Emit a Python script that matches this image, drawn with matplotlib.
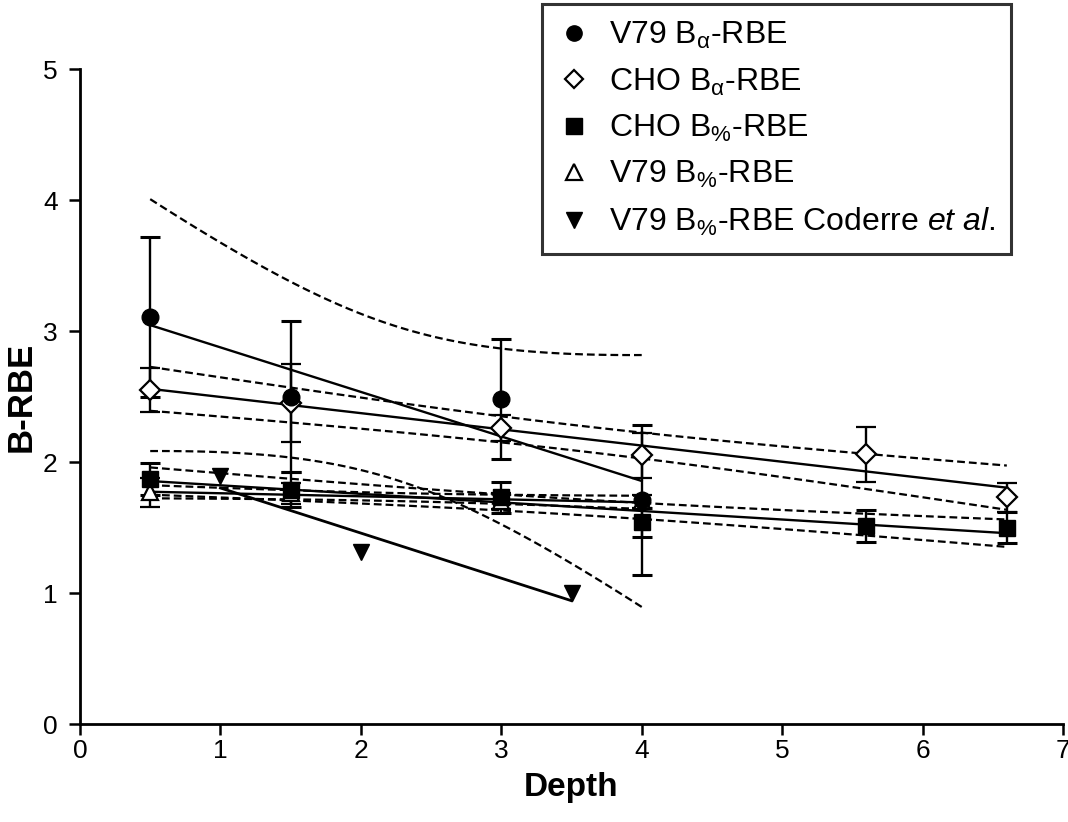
import numpy as np
import matplotlib.pyplot as plt
from matplotlib.lines import Line2D

plt.rcParams['font.family'] = ['Liberation Sans', 'DejaVu Sans']
plt.rcParams['mathtext.fontset'] = 'custom'
plt.rcParams['mathtext.rm'] = 'Liberation Sans'
plt.rcParams['mathtext.it'] = 'Liberation Sans:italic'
plt.rcParams['mathtext.bf'] = 'Liberation Sans:bold'

# V79 B-alpha RBE (filled circles)
v79a_x = [0.5, 1.5, 3.0, 4.0]
v79a_y = [3.11, 2.50, 2.48, 1.71]
v79a_err = [0.61, 0.58, 0.46, 0.57]

# CHO B-alpha RBE (open diamonds)
choa_x = [0.5, 1.5, 3.0, 4.0, 5.6, 6.6]
choa_y = [2.55, 2.45, 2.26, 2.05, 2.06, 1.73]
choa_err = [0.17, 0.30, 0.10, 0.17, 0.21, 0.11]

# CHO B%-RBE (filled squares)
chop_x = [0.5, 1.5, 3.0, 4.0, 5.6, 6.6]
chop_y = [1.87, 1.79, 1.73, 1.54, 1.51, 1.50]
chop_err = [0.12, 0.13, 0.12, 0.11, 0.12, 0.12]

# V79 B%-RBE (open triangles)
v79p_x = [0.5, 1.5, 3.0, 4.0]
v79p_y = [1.77, 1.76, 1.70, 1.70]
v79p_err = [0.11, 0.08, 0.06, 0.05]

# V79 B%-RBE Coderre et al. (filled down triangles)
cod_x = [1.0, 2.0, 3.5]
cod_y = [1.89, 1.31, 1.00]

labels = [r'V79 B$_{\mathrm{α}}$-RBE', r'CHO B$_{\mathrm{α}}$-RBE', r'CHO B$_{\%}$-RBE',
          r'V79 B$_{\%}$-RBE', r'V79 B$_{\%}$-RBE Coderre $\it{et\ al.}$']


def fit_band(x, y, t):
    x = np.array(x)
    y = np.array(y)
    slope, icpt = np.polyfit(x, y, 1)
    xs = np.linspace(x.min(), x.max(), 100)
    yfit = icpt + slope * xs
    n = len(x)
    resid = y - (icpt + slope * x)
    s = np.sqrt(np.sum(resid ** 2) / (n - 2))
    se = s * np.sqrt(1.0 / n + (xs - x.mean()) ** 2 / np.sum((x - x.mean()) ** 2))
    return xs, yfit, yfit - t * se, yfit + t * se


fig = plt.figure(figsize=(10.68, 8.22), dpi=100)
ax = fig.add_axes([80 / 1068, 1 - 724 / 822, (1063 - 80) / 1068, (724 - 69) / 822])

dash = dict(color='black', lw=1.6, ls=(0, (3.5, 1.8)))
# regression lines with 95% confidence bands (t for n-2 dof)
for x, y, t in [(v79a_x, v79a_y, 4.303), (choa_x, choa_y, 2.776),
                (chop_x, chop_y, 2.776), (v79p_x, v79p_y, 4.303)]:
    xs, yf, lo, hi = fit_band(x, y, t)
    ax.plot(xs, yf, color='black', lw=1.7)
    ax.plot(xs, lo, **dash)
    ax.plot(xs, hi, **dash)

xc = np.array(cod_x)
sl, ic = np.polyfit(xc, cod_y, 1)
ax.plot(xc[[0, -1]], ic + sl * xc[[0, -1]], color='black', lw=2.0)

eb = dict(ls='none', ecolor='black', elinewidth=1.7, capsize=7, capthick=2.2, mec='black')
ax.errorbar(v79p_x, v79p_y, yerr=v79p_err, marker='^', ms=11, mfc='white', mew=1.6, **eb)
ax.errorbar(chop_x, chop_y, yerr=chop_err, marker='s', ms=11, mfc='black', **eb)
ax.errorbar(choa_x, choa_y, yerr=choa_err, marker='D', ms=10, mfc='white', mew=1.6, **eb)
ax.errorbar(v79a_x, v79a_y, yerr=v79a_err, marker='o', ms=12, mfc='black', **eb)
ax.plot(cod_x, cod_y, ls='none', marker='v', ms=12, color='black')

ax.set_xlim(0, 7)
ax.set_ylim(0, 5)
ax.set_xticks(range(0, 8))
ax.set_yticks(range(0, 6))
ax.spines['top'].set_visible(False)
ax.spines['right'].set_visible(False)
ax.spines['left'].set_linewidth(2.0)
ax.spines['bottom'].set_linewidth(2.0)
ax.tick_params(direction='out', length=8, width=1.8, labelsize=19)
ax.tick_params(axis='y', pad=8)
ax.tick_params(axis='x', pad=3)
ax.set_xlabel('Depth', fontsize=24, fontweight='bold', labelpad=6)
ax.set_ylabel('B-RBE', fontsize=25, fontweight='bold', labelpad=4)

handles = [
    Line2D([], [], ls='none', marker='o', ms=11, mfc='black', mec='black'),
    Line2D([], [], ls='none', marker='D', ms=9, mfc='white', mec='black', mew=1.6),
    Line2D([], [], ls='none', marker='s', ms=11, mfc='black', mec='black'),
    Line2D([], [], ls='none', marker='^', ms=11, mfc='white', mec='black', mew=1.6),
    Line2D([], [], ls='none', marker='v', ms=11, mfc='black', mec='black'),
]
leg = fig.legend(handles, labels, loc='upper left', bbox_to_anchor=(542 / 1068, 1 - 4 / 822),
                 fontsize=23, frameon=True, fancybox=False, edgecolor='black',
                 handlelength=1.0, handletextpad=0.6, labelspacing=0.48,
                 borderpad=0.5, borderaxespad=0)
leg.get_frame().set_linewidth(2.2)

fig.savefig('out.png', dpi=100)
